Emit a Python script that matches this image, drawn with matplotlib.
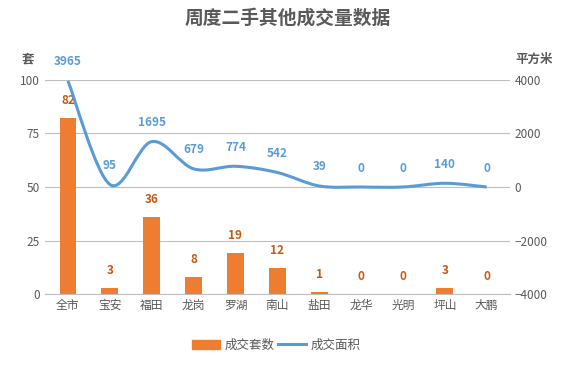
import matplotlib.pyplot as plt
import matplotlib.transforms as mtransforms
from matplotlib.path import Path
from matplotlib.patches import PathPatch, Patch
from matplotlib.lines import Line2D
import numpy as np

plt.rcParams['font.family'] = ['Noto Sans CJK SC', 'DejaVu Sans']

# data
districts = ['全市', '宝安', '福田', '龙岗', '罗湖', '南山', '盐田', '龙华', '光明', '坪山', '大鹏']
units = [82, 3, 36, 8, 19, 12, 1, 0, 0, 3, 0]
area = [3965, 95, 1695, 679, 774, 542, 39, 0, 0, 140, 0]

orange = '#ED7D31'
blue = '#5B9BD5'
grey = '#595959'

fig = plt.figure(figsize=(5.76, 3.9), dpi=100)
ax = fig.add_axes([0.078, 0.246, 0.807, 0.549])
ax2 = ax.twinx()

x = np.arange(len(districts))
ax.bar(x, units, width=0.4, color=orange, zorder=2)
up8 = mtransforms.offset_copy(ax.transData, fig=fig, x=0, y=8, units='points')
for xi, v in zip(x, units):
    ax.text(xi, v, str(v), transform=up8, ha='center', va='bottom',
            color='#C55A11', fontsize=8.5, fontweight='bold')

ax.set_xlim(-0.55, len(districts) - 0.45)
ax.set_ylim(0, 100)
ax.set_yticks([0, 25, 50, 75, 100])
ax.set_xticks(x)
ax.set_xticklabels(districts)
ax.yaxis.grid(True, color='#BFBFBF', linewidth=0.8)
ax.set_axisbelow(True)

# smooth line as bezier path through the data points
pts = np.column_stack([x, area]).astype(float)
verts = [tuple(pts[0])]
codes = [Path.MOVETO]
for i in range(len(pts) - 1):
    p0 = pts[i - 1] if i > 0 else pts[i]
    p1 = pts[i]
    p2 = pts[i + 1]
    p3 = pts[i + 2] if i + 2 < len(pts) else pts[i + 1]
    verts += [tuple(p1 + (p2 - p0) / 6), tuple(p2 - (p3 - p1) / 6), tuple(p2)]
    codes += [Path.CURVE4] * 3
ax2.add_patch(PathPatch(Path(verts, codes), facecolor='none', edgecolor=blue,
                        linewidth=2.2, zorder=3))
up9 = mtransforms.offset_copy(ax2.transData, fig=fig, x=0, y=9, units='points')
for xi, v in zip(x, area):
    ax2.text(xi, v, str(v), transform=up9, ha='center', va='bottom',
             color=blue, fontsize=8.5, fontweight='bold')
ax2.set_ylim(-4000, 4000)
ax2.set_yticks([-4000, -2000, 0, 2000, 4000])
ax2.set_yticklabels(['−4000', '−2000', '0', '2000', '4000'])

for a in (ax, ax2):
    for s in a.spines.values():
        s.set_visible(False)
    a.tick_params(length=0, labelsize=8.5, labelcolor=grey)
ax.spines['bottom'].set_visible(True)
ax.spines['bottom'].set_color('#BFBFBF')

fig.text(0.5, 0.953, '周度二手其他成交量数据', ha='center', va='center',
         fontsize=13.5, fontweight='bold', color=grey)
fig.text(0.048, 0.848, '套', ha='center', va='center', fontsize=9, fontweight='bold', color=grey)
fig.text(0.928, 0.848, '平方米', ha='center', va='center', fontsize=9, fontweight='bold', color=grey)

# legend
handles = [Patch(color=orange), Line2D([], [], color=blue, linewidth=2.2)]
fig.legend(handles, ['成交套数', '成交面积'], loc='center', bbox_to_anchor=(0.48, 0.115),
           ncol=2, frameon=False, fontsize=9, labelcolor=grey, handlelength=2.2,
           handletextpad=0.4, columnspacing=0.3)

fig.savefig('out.png', dpi=100)
